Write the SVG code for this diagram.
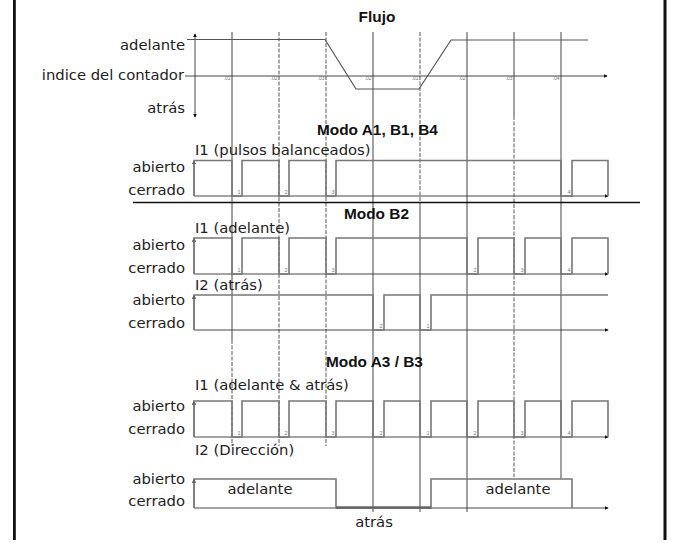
<svg xmlns="http://www.w3.org/2000/svg" width="681" height="543" viewBox="0 0 681 543">
<defs>
<marker id="ar" viewBox="0 0 6 6" refX="5" refY="3" markerWidth="4" markerHeight="4" orient="auto-start-reverse" markerUnits="userSpaceOnUse">
<path d="M0,0 L6,3 L0,6 z" fill="#111"/>
</marker>
<style>
.lbl{font-family:"DejaVu Sans",sans-serif;font-size:14.8px;fill:#222}
.r{text-anchor:end}
.ttl{font-family:"Liberation Sans",Arial,sans-serif;font-weight:bold;font-size:15.4px;fill:#111}
.tiny{font-family:"Liberation Sans",Arial,sans-serif;font-size:5px;fill:#777}
.num{font-family:"Liberation Sans",Arial,sans-serif;font-size:5.5px;fill:#777;text-anchor:middle}
.grid{stroke:#444;stroke-width:1;fill:none}
.dash{stroke:#555;stroke-width:1;fill:none;stroke-dasharray:4 1.5}
.wave{stroke:#777;stroke-width:1.6;fill:none}
.axis{stroke:#333;stroke-width:0.9;fill:none}
</style>
</defs>
<rect width="681" height="543" fill="#fff"/>
<rect x="13" y="0" width="2.8" height="540" fill="#111"/>
<rect x="663.5" y="0" width="3" height="540" fill="#111"/>

<g id="connectors">
<line class="grid" x1="232" y1="32" x2="232" y2="340"/>
<line class="dash" x1="232" y1="340" x2="232" y2="446"/>
<line class="dash" x1="279" y1="32" x2="279" y2="446"/>
<line class="dash" x1="326" y1="32" x2="326" y2="446"/>
<line class="grid" x1="373" y1="32" x2="373" y2="512"/>
<line class="dash" x1="420" y1="32" x2="420" y2="205"/>
<line class="grid" x1="420" y1="205" x2="420" y2="512"/>
<line class="grid" x1="467" y1="32" x2="467" y2="512"/>
<line class="grid" x1="514" y1="32" x2="514" y2="116"/>
<line class="dash" x1="514" y1="116" x2="514" y2="477"/>
<line class="grid" x1="561" y1="32" x2="561" y2="479"/>
</g>

<g id="flujo">
<text class="ttl" x="377" y="22" text-anchor="middle">Flujo</text>
<text class="lbl r" x="185" y="50">adelante</text>
<text class="lbl r" x="184" y="80">indice del contador</text>
<text class="lbl r" x="185" y="113">atrás</text>
<line class="axis" x1="195" y1="76" x2="195" y2="34" marker-end="url(#ar)"/>
<line class="axis" x1="195" y1="76" x2="195" y2="117" marker-end="url(#ar)"/>
<line class="axis" x1="185" y1="76" x2="607" y2="76" marker-end="url(#ar)"/>
<path d="M187,39.5 H325 L356,89 H419 L451,40 H588" stroke="#555" stroke-width="1.2" fill="none"/>
<text class="tiny" text-anchor="end" x="230.5" y="80">.01</text>
<text class="tiny" text-anchor="end" x="277.5" y="80">.02</text>
<text class="tiny" text-anchor="end" x="324.5" y="80">.03</text>
<text class="tiny" text-anchor="end" x="371.5" y="80">.02</text>
<text class="tiny" text-anchor="end" x="418.5" y="80">.01</text>
<text class="tiny" text-anchor="end" x="465.5" y="80">.02</text>
<text class="tiny" text-anchor="end" x="512.5" y="80">.03</text>
<text class="tiny" text-anchor="end" x="559.5" y="80">.04</text>
</g>

<g id="modo-a1">
<text class="ttl" x="317" y="135">Modo A1, B1, B4</text>
<text class="lbl" x="195" y="155">I1 (pulsos balanceados)</text>
<text class="lbl r" x="185" y="171.5">abierto</text>
<text class="lbl r" x="185" y="195">cerrado</text>
<line class="axis" x1="194" y1="196" x2="194" y2="161" marker-end="url(#ar)"/>
<line class="axis" x1="194" y1="196" x2="608" y2="196" marker-end="url(#ar)"/>
<path class="wave" d="M194,196 V160.5 H232 V196 H242 V160.5 H279 V196 H289 V160.5 H326 V196 H336 V160.5 H561 V196 H572 V160.5 H608 V196"/>
<text class="num" x="239" y="194">1</text>
<text class="num" x="286" y="194">2</text>
<text class="num" x="333" y="194">3</text>
<text class="num" x="569" y="194">4</text>
<line x1="133" y1="202.5" x2="640" y2="202.5" stroke="#111" stroke-width="1.6"/>
</g>

<g id="modo-b2">
<text class="ttl" x="344" y="219">Modo B2</text>
<text class="lbl" x="195" y="233">I1 (adelante)</text>
<text class="lbl r" x="185" y="250">abierto</text>
<text class="lbl r" x="185" y="273">cerrado</text>
<line class="axis" x1="194" y1="274" x2="194" y2="238.5" marker-end="url(#ar)"/>
<line class="axis" x1="194" y1="274" x2="608" y2="274" marker-end="url(#ar)"/>
<path class="wave" d="M194,274 V238 H232 V274 H242 V238 H279 V274 H289 V238 H326 V274 H336 V238 H467 V274 H478 V238 H514 V274 H525 V238 H561 V274 H572 V238 H608 V274"/>
<text class="num" x="239" y="272">1</text>
<text class="num" x="286" y="272">2</text>
<text class="num" x="333" y="272">3</text>
<text class="num" x="475" y="272">2</text>
<text class="num" x="522" y="272">3</text>
<text class="num" x="569" y="272">4</text>
<text class="lbl" x="195" y="290">I2 (atrás)</text>
<text class="lbl r" x="185" y="305">abierto</text>
<text class="lbl r" x="185" y="328">cerrado</text>
<line class="axis" x1="194" y1="330" x2="194" y2="295.5" marker-end="url(#ar)"/>
<line class="axis" x1="194" y1="330" x2="608" y2="330" marker-end="url(#ar)"/>
<path class="wave" d="M194,330 V295 H373 V330 H384 V295 H420 V330 H431 V295 H608"/>
<text class="num" x="381" y="328">2</text>
<text class="num" x="428" y="328">1</text>
</g>

<g id="modo-a3">
<text class="ttl" x="326" y="367">Modo A3 / B3</text>
<text class="lbl" x="195" y="390">I1 (adelante &amp; atrás)</text>
<text class="lbl r" x="185" y="410.5">abierto</text>
<text class="lbl r" x="185" y="433.5">cerrado</text>
<line class="axis" x1="194" y1="437" x2="194" y2="401.5" marker-end="url(#ar)"/>
<line class="axis" x1="194" y1="437" x2="608" y2="437" marker-end="url(#ar)"/>
<path class="wave" d="M194,437 V401 H232 V437 H242 V401 H279 V437 H289 V401 H326 V437 H336 V401 H373 V437 H384 V401 H420 V437 H431 V401 H467 V437 H478 V401 H514 V437 H525 V401 H561 V437 H572 V401 H608 V437"/>
<text class="num" x="239" y="435">1</text>
<text class="num" x="286" y="435">2</text>
<text class="num" x="333" y="435">3</text>
<text class="num" x="381" y="435">2</text>
<text class="num" x="428" y="435">1</text>
<text class="num" x="475" y="435">2</text>
<text class="num" x="522" y="435">3</text>
<text class="num" x="569" y="435">4</text>
<text class="lbl" x="195" y="455">I2 (Dirección)</text>
<text class="lbl r" x="185" y="483.5">abierto</text>
<text class="lbl r" x="185" y="506">cerrado</text>
<line class="axis" x1="194" y1="508" x2="194" y2="479.5" marker-end="url(#ar)"/>
<line class="axis" x1="194" y1="508" x2="608" y2="508" marker-end="url(#ar)"/>
<path class="wave" d="M194,508 V479 H336 V508 H431 V479 H572 V508"/>
<line x1="336" y1="507.5" x2="431" y2="507.5" stroke="#666" stroke-width="2.4"/>
<text class="lbl" x="260" y="494" text-anchor="middle">adelante</text>
<text class="lbl" x="518" y="494" text-anchor="middle">adelante</text>
<text class="lbl" x="374" y="527" text-anchor="middle">atrás</text>
</g>
</svg>
